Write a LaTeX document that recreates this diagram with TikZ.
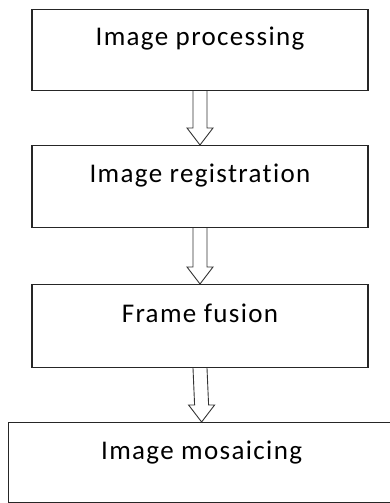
\documentclass[tikz,border=0pt]{standalone}
\usepackage{fontspec}
\setmainfont{Carlito}[LetterSpace=5, Ligatures=NoCommon]
\usetikzlibrary{calc}
\begin{document}
\begin{tikzpicture}[x=1pt, y=-1pt,
  stage/.style={draw=black!85, line width=1.2pt, inner xsep=0pt, inner ysep=0pt,
    minimum width=336pt, text height=36pt, text depth=45pt, anchor=north,
    font=\fontsize{27}{30}\selectfont},
  hollow/.style={draw=black!80, line width=0.9pt, line join=miter}]

\def\xm{200}; % middle
\def\dw{7}; % half shaft
\def\hw{13}; % half head
\def\hl{17}; % head length

\useasboundingbox (0,0) rectangle (389,503);

\node[stage] (proc) at (\xm, 9) {Image processing};
\node[stage, text height=37pt] (reg) at (\xm, 145) {Image registration};
\node[stage, text height=38pt] (fus) at (\xm, 284) {Frame fusion};
\node[stage, anchor=north west, minimum width=386pt, text height=37pt, text depth=43pt] (mos) at (8, 422) {Image mosaicing};

% block arrows
\foreach \a/\b in {proc/reg, reg/fus, fus/mos} {
  \draw[hollow] ($(\a.south)+(-\dw,0)$) -- ($(\b.north)+(-\dw,-\hl)$)
    -- ($(\b.north)+(-\hw,-\hl)$) -- (\b.north) -- ($(\b.north)+(\hw,-\hl)$)
    -- ($(\b.north)+(\dw,-\hl)$) -- ($(\a.south)+(\dw,0)$);
}

\end{tikzpicture}
\end{document}
